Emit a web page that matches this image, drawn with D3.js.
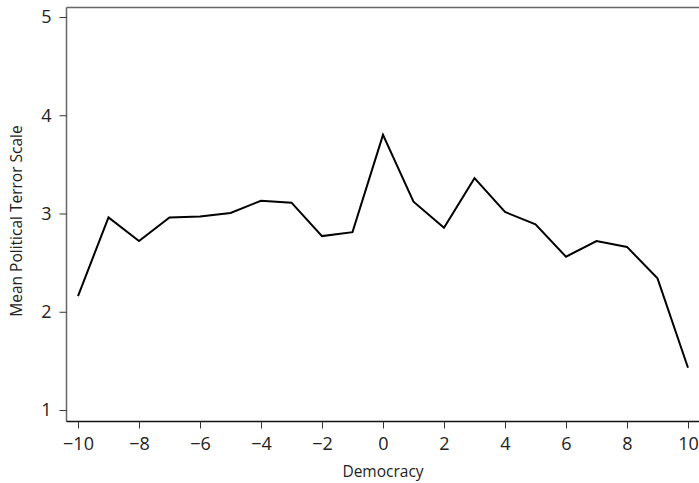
<!DOCTYPE html>
<html><head><meta charset="utf-8">
<script src="https://cdn.jsdelivr.net/npm/d3@7"></script>
<style>body{margin:0;background:#fff}svg{display:block}text{font-family:"Open Sans",sans-serif}</style>
</head><body><svg id="c" width="699" height="483"></svg>
<script>
const democracy = [-10,-9,-8,-7,-6,-5,-4,-3,-2,-1,0,1,2,3,4,5,6,7,8,9,10];
const meanPTS = [2.16,2.96,2.72,2.96,2.97,3.005,3.13,3.11,2.77,2.81,3.80,3.12,2.855,3.36,3.015,2.89,2.56,2.72,2.66,2.34,1.43];
const xTicks = [-10,-8,-6,-4,-2,0,2,4,6,8,10];
const yTicks = [1,2,3,4,5];

(function(){
const svg = d3.select("#c");
const x = d3.scaleLinear().domain([-10,10]).range([78,688]);
const y = d3.scaleLinear().domain([1,5]).range([410,17]);
const pLeft = 66.5, pBottom = 421.5, pTop = 7.5, pRight = 699;

svg.append("line").attr("x1",pLeft).attr("x2",pRight).attr("y1",pTop).attr("y2",pTop)
  .attr("stroke","#666").attr("stroke-width",1.5);

const fmt = d => d < 0 ? "\u2212" + Math.abs(d) : String(d);

const ya = svg.append("g").attr("transform",`translate(${pLeft},0)`)
  .call(d3.axisLeft(y).tickValues(yTicks).tickSize(7).tickPadding(8).tickFormat(fmt));
ya.select(".domain").attr("d",`M0,${pTop}V${pBottom}`).attr("stroke","#666").attr("stroke-width",1.5);
ya.selectAll(".tick line").attr("stroke","#333");
ya.selectAll("text").attr("font-size",18).attr("fill","#222").attr("font-family","Open Sans");

const xa = svg.append("g").attr("transform",`translate(0,${pBottom})`)
  .call(d3.axisBottom(x).tickValues(xTicks).tickSize(7).tickPadding(9).tickFormat(fmt));
xa.select(".domain").attr("d",`M${pLeft},0H${pRight}`).attr("stroke","#111").attr("stroke-width",1.5);
xa.selectAll(".tick line").attr("stroke","#333");
xa.selectAll("text").attr("font-size",18).attr("fill","#222").attr("font-family","Open Sans");

svg.append("text").attr("x",(x(-10)+x(10))/2).attr("y",477).attr("text-anchor","middle")
  .attr("font-size",15.5).attr("fill","#222").text("Democracy");
svg.append("text").attr("transform","translate(22,221) rotate(-90)").attr("text-anchor","middle")
  .attr("font-size",15.5).attr("fill","#222").text("Mean Political Terror Scale");

svg.append("path").datum(democracy.map((d,i)=>[d,meanPTS[i]]))
  .attr("fill","none").attr("stroke","#000").attr("stroke-width",2)
  .attr("d", d3.line().x(d=>x(d[0])).y(d=>y(d[1])));
})();
</script></body></html>
